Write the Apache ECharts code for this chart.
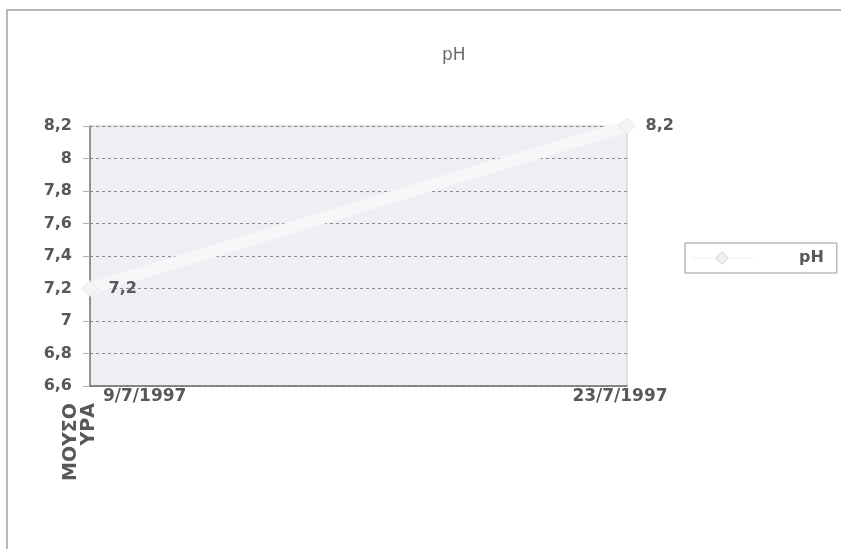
<!DOCTYPE html>
<html>
<head>
<meta charset="utf-8">
<script src="https://cdn.jsdelivr.net/npm/echarts@6/dist/echarts.min.js"></script>
<style>html,body{margin:0;padding:0;background:#fff}#c{width:841px;height:549px}</style>
</head>
<body>
<div id="c"></div>
<script>
const categories = ['9/7/1997', '23/7/1997'];
const phValues = [7.2, 8.2];
const seriesName = 'pH';
const chartTitle = 'pH';
const groupLabel = 'ΜΟΥΣΟ\nΥΡΑ';
const yMin = 6.6, yMax = 8.2, yStep = 0.2;

const fmt = v => String(Number(Number(v).toFixed(1))).replace('.', ',');
const FONT = '"DejaVu Sans", Arial, sans-serif';
const TXT = '#58585c';

const chart = echarts.init(document.getElementById('c'), null, {renderer: 'canvas'});
chart.setOption({
  backgroundColor: '#ffffff',
  animation: false,
  title: {
    text: chartTitle, left: 437, top: 42,
    textStyle: {fontFamily: FONT, fontSize: 17, fontWeight: 'normal', color: '#6a6a6e'}
  },
  grid: {
    left: 90, right: 214, top: 126, bottom: 163,
    show: true, backgroundColor: '#eeeff2', borderColor: '#c9c9cd', borderWidth: 1
  },
  legend: {
    data: [seriesName], left: 685, top: 243, orient: 'vertical',
    padding: [7, 13, 7, 5], borderColor: '#9a9a9e', borderWidth: 1,
    itemWidth: 62, itemHeight: 14, itemGap: 5,
    textStyle: {fontFamily: FONT, fontSize: 16, fontWeight: 'bold', color: TXT, lineHeight: 16, padding: [0, 0, 0, 41]}
  },
  xAxis: {
    type: 'category', data: categories, boundaryGap: false,
    axisLine: {lineStyle: {color: '#6e6e72', width: 1.5}},
    axisTick: {show: false},
    axisLabel: {
      fontFamily: FONT, fontSize: 17, fontWeight: 'bold', color: TXT, margin: 2,
      align: 'center', alignMinLabel: 'left', alignMaxLabel: 'center',
      formatter: (v, i) => i === 0 ? '{a|' + v + '}' : '{b|' + v + '}',
      rich: {
        a: {fontFamily: FONT, fontSize: 17, fontWeight: 'bold', color: TXT, padding: [0, 0, 0, 13]},
        b: {fontFamily: FONT, fontSize: 17, fontWeight: 'bold', color: TXT, padding: [0, 14, 0, 0]}
      }
    },
    splitLine: {show: false}
  },
  yAxis: {
    type: 'value', min: yMin, max: yMax, interval: yStep,
    axisLine: {show: true, lineStyle: {color: '#77777b', width: 1.5}},
    axisTick: {show: true, length: 7, lineStyle: {color: '#b0b0b4'}},
    axisLabel: {fontFamily: FONT, fontSize: 16, fontWeight: 'bold', color: TXT, margin: 18, formatter: fmt},
    splitLine: {show: true, lineStyle: {color: '#8a8a90', type: [3, 3], width: 1}}
  },
  series: [{
    name: seriesName, type: 'line', data: phValues,
    symbol: 'diamond', symbolSize: 16,
    lineStyle: {color: '#f7f7f9', width: 12},
    itemStyle: {color: '#f4f4f6', borderColor: '#e4e4e8', borderWidth: 1},
    label: {
      show: true, position: 'right', distance: 10,
      fontFamily: FONT, fontSize: 16, fontWeight: 'bold', color: TXT,
      formatter: p => fmt(p.value)
    }
  }],
  graphic: [
    {type: 'polyline', shape: {points: [[7, 549], [7, 10], [841, 10]]},
     style: {stroke: '#a0a0a4', lineWidth: 1.5, fill: null}, silent: true},
    {type: 'text', x: 62, y: 403, rotation: Math.PI / 2,
     style: {text: groupLabel, fontFamily: FONT, fontSize: 19, fontWeight: 'bold', fill: TXT,
             align: 'right', verticalAlign: 'top', lineHeight: 18}}
  ]
});
</script>
</body>
</html>
